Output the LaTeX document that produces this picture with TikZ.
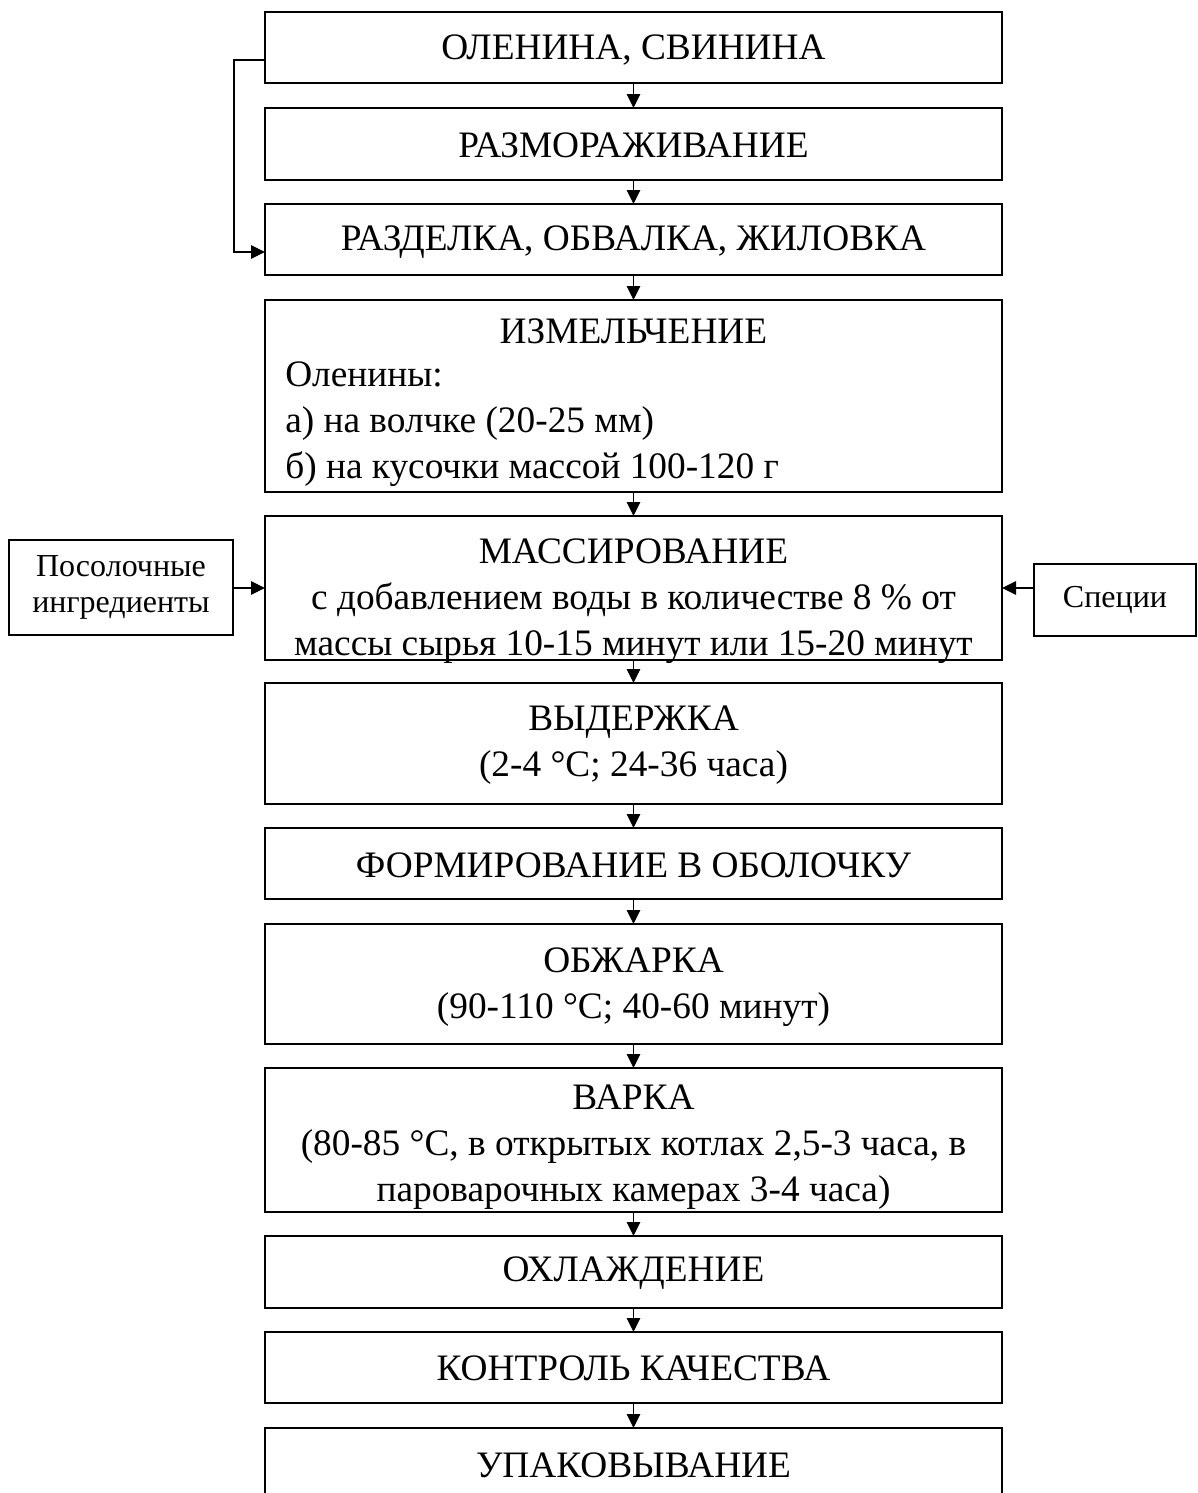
\documentclass[tikz,border=0pt]{standalone}
\usepackage{fontspec}
\setmainfont{Liberation Serif}
\usetikzlibrary{arrows.meta}
\begin{document}
\begin{tikzpicture}[x=0.75pt,y=-0.75pt,
  box/.style={draw, line width=1.4pt, fill=white, minimum width=552.75pt, inner sep=0pt, outer sep=0pt},
  txt/.style={font=\fontsize{28}{34.5}\selectfont, align=center, inner sep=0pt},
  sidebox/.style={draw, line width=1.4pt, fill=white, inner sep=0pt, outer sep=0pt, font=\fontsize{24}{27.5}\selectfont, align=center},
  arr/.style={line width=1.4pt, -{Triangle[length=10.5pt,width=10pt]}}]
\useasboundingbox (0,0) rectangle (1198,1493);
\clip (0,0) rectangle (1198,1493);
% main boxes
\node[box, minimum height=53.25pt] (b1) at (633.5,47.5) {};
\node[box, minimum height=54pt]    (b2) at (633.5,144) {};
\node[box, minimum height=53.25pt] (b3) at (633.5,239.5) {};
\node[box, minimum height=144pt]   (b4) at (633.5,396) {};
\node[box, minimum height=108pt]   (b5) at (633.5,588) {};
\node[box, minimum height=90.75pt] (b6) at (633.5,743.5) {};
\node[box, minimum height=53.25pt] (b7) at (633.5,863.5) {};
\node[box, minimum height=90pt]    (b8) at (633.5,984) {};
\node[box, minimum height=108pt]   (b9) at (633.5,1140) {};
\node[box, minimum height=54pt]    (b10) at (633.5,1272) {};
\node[box, minimum height=53.25pt] (b11) at (633.5,1367.5) {};
\node[box, minimum height=54pt]    (b12) at (633.5,1464) {};
% texts
\node[txt] (t1) at (633.5,50.5) {ОЛЕНИНА, СВИНИНА};
\node[txt] (t2) at (633.5,145) {РАЗМОРАЖИВАНИЕ};
\node[txt] (t3) at (633.5,242.5) {РАЗДЕЛКА, ОБВАЛКА, ЖИЛОВКА};
\node[txt] (t4a) at (633.5,331) {ИЗМЕЛЬЧЕНИЕ};
\node[txt, align=left, anchor=west] (t4b) at (285,424) {Оленины:\\а) на волчке (20-25 мм)\\б) на кусочки массой 100-120 г};
\node[txt] (t5) at (633.5,601) {МАССИРОВАНИЕ\\с добавлением воды в количестве 8 \% от\\массы сырья 10-15 минут или 15-20 минут};
\node[txt] (t6) at (633.5,745) {ВЫДЕРЖКА\\(2-4 °C; 24-36 часа)};
\node[txt] (t7) at (633.5,865) {ФОРМИРОВАНИЕ В ОБОЛОЧКУ};
\node[txt] (t8) at (633.5,987) {ОБЖАРКА\\(90-110 °C; 40-60 минут)};
\node[txt] (t9) at (633.5,1147) {ВАРКА\\(80-85 °C, в открытых котлах 2,5-3 часа, в\\пароварочных камерах 3-4 часа)};
\node[txt] (t10) at (633.5,1273) {ОХЛАЖДЕНИЕ};
\node[txt] (t11) at (633.5,1368.5) {КОНТРОЛЬ КАЧЕСТВА};
\node[txt] (t12) at (633.5,1465) {УПАКОВЫВАНИЕ};
% side boxes
\node[sidebox, minimum width=168pt, minimum height=71.25pt] (s1) at (121,587.5) {Посолочные\\ингредиенты};
\node[sidebox, minimum width=121.5pt, minimum height=54pt] (s2) at (1115,600) {Специи};
% vertical arrows
\foreach \a/\b in {b1/b2,b2/b3,b3/b4,b4/b5,b5/b6,b6/b7,b7/b8,b8/b9,b9/b10,b10/b11,b11/b12}
  \draw[arr] (\a.south) -- (\b.north);
% side arrows
\draw[arr] (s1.east |- b5.west) -- (b5.west);
\draw[arr] (s2.west |- b5.east) -- (b5.east);
% feedback
\coordinate (fbA) at (234,60);
\coordinate (fbB) at (234,252);
\draw[arr] (b1.west |- fbA) -- (fbA) -- (fbB) -- (b3.west |- fbB);
\end{tikzpicture}
\end{document}
